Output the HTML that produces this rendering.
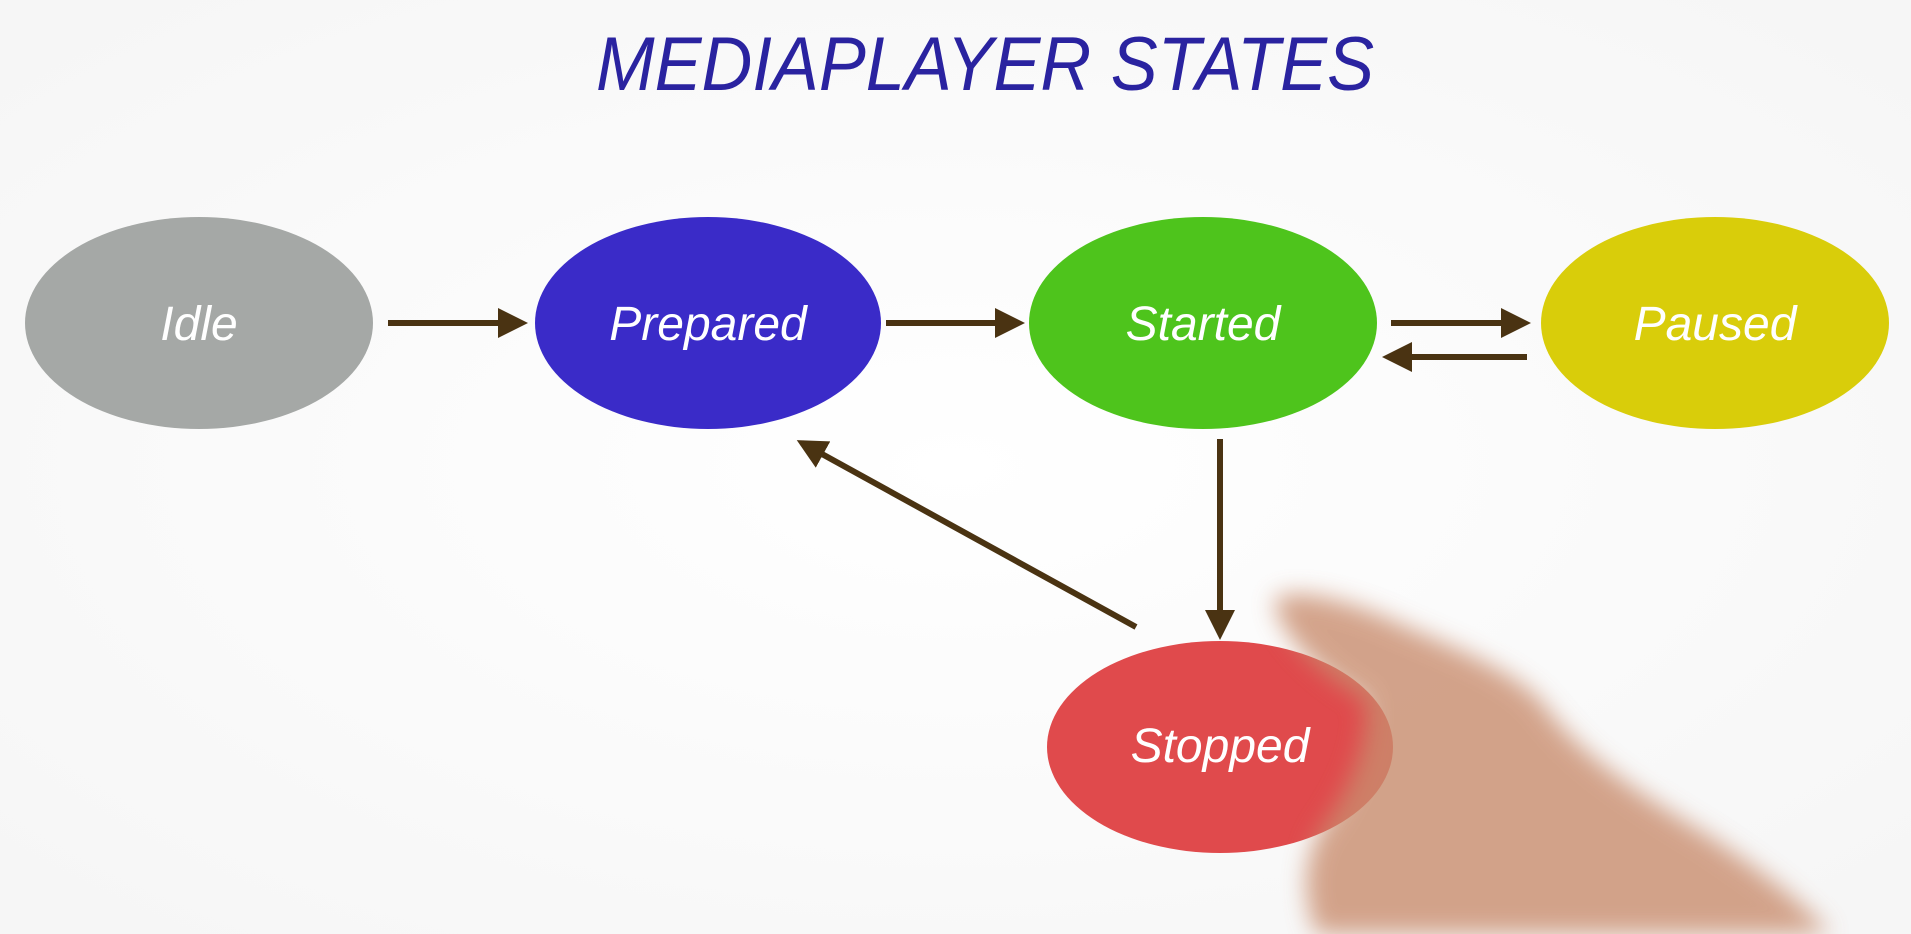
<!DOCTYPE html>
<html><head><meta charset="utf-8"><style>
html,body{margin:0;padding:0;background:#fdfdfd;}
svg{display:block}
text{font-family:"Comic Sans MS","Liberation Sans",sans-serif;}
</style></head><body>
<svg width="1911" height="934" viewBox="0 0 1911 934" xmlns="http://www.w3.org/2000/svg">
<defs>
<marker id="ah" viewBox="0 0 10 10" refX="8" refY="5" markerWidth="5" markerHeight="5" orient="auto"><path d="M0,0 L10,5 L0,10 Z" fill="#4a3312"/></marker>
<filter id="blur" x="-20%" y="-20%" width="140%" height="140%"><feGaussianBlur stdDeviation="12"/></filter>
<radialGradient id="bg" cx="50%" cy="50%" r="75%"><stop offset="0" stop-color="#ffffff"/><stop offset="1" stop-color="#f5f5f5"/></radialGradient>
</defs>
<rect width="1911" height="934" fill="url(#bg)"/>
<text x="985" y="90" text-anchor="middle" font-size="76" fill="#2a23a0" font-style="italic" textLength="778" lengthAdjust="spacingAndGlyphs">MEDIAPLAYER STATES</text>
<g stroke="#4a3312" stroke-width="6" fill="none" marker-end="url(#ah)">
<line x1="388" y1="323" x2="522" y2="323"/>
<line x1="886" y1="323" x2="1019" y2="323"/>
<line x1="1391" y1="323" x2="1525" y2="323"/>
<line x1="1527" y1="357" x2="1388" y2="357"/>
<line x1="1220" y1="439" x2="1220" y2="634"/>
<line x1="1136" y1="627" x2="802" y2="443"/>
</g>
<g><ellipse cx="199" cy="323" rx="174" ry="106" fill="#a5a8a6"/><text x="199" y="340" text-anchor="middle" font-size="48" fill="#fff" font-style="italic">Idle</text></g>
<g><ellipse cx="708" cy="323" rx="173" ry="106" fill="#3a2bc8"/><text x="708" y="340" text-anchor="middle" font-size="48" fill="#fff" font-style="italic">Prepared</text></g>
<g><ellipse cx="1203" cy="323" rx="174" ry="106" fill="#4ec41c"/><text x="1203" y="340" text-anchor="middle" font-size="48" fill="#fff" font-style="italic">Started</text></g>
<g><ellipse cx="1715" cy="323" rx="174" ry="106" fill="#d9cd0a"/><text x="1715" y="340" text-anchor="middle" font-size="48" fill="#fff" font-style="italic">Paused</text></g>
<g><ellipse cx="1220" cy="747" rx="173" ry="106" fill="#e04a4c"/><text x="1220" y="762" text-anchor="middle" font-size="48" fill="#fff" font-style="italic">Stopped</text></g>
<g filter="url(#blur)" opacity="0.8">
<path d="M1274,600 C1290,585 1350,600 1402,625 C1460,650 1510,670 1540,700 C1570,740 1600,770 1707,835 C1760,870 1800,900 1830,934 L1316,934 C1305,900 1300,870 1320,830 C1350,790 1370,740 1365,700 C1330,680 1280,640 1274,600 Z" fill="#c98d6e"/>
</g>
</svg>
</body></html>
